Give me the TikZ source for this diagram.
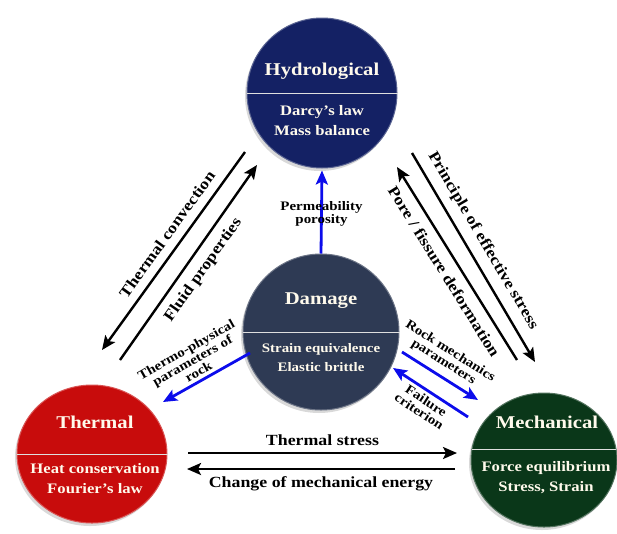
\documentclass[tikz,border=0pt]{standalone}
\usepackage{fontspec}
\setmainfont{Liberation Serif}[FakeStretch=1.15]
\usetikzlibrary{calc,arrows.meta,shapes.geometric,shadows}
\definecolor{hydroblue}{RGB}{20,33,100}
\definecolor{damagegray}{RGB}{46,58,84}
\definecolor{thermred}{RGB}{200,12,12}
\definecolor{mechgreen}{RGB}{10,55,25}
\definecolor{cream}{RGB}{255,250,236}
\definecolor{linkblue}{RGB}{12,12,235}
\tikzset{%
  field/.style={ellipse, inner sep=0pt, fill=#1, draw=#1!70!white, line width=1pt,
    drop shadow={shadow xshift=-2pt, shadow yshift=-3pt, opacity=.3}},% physical field disc
  title/.style={text=cream, font=\fontsize{18}{21}\selectfont\bfseries},% field name
  law/.style={text=cream, align=center, font=\fontsize{14.5}{20}\selectfont\bfseries},% governing laws
  divider/.style={draw=white!75!gray, line width=.8pt},% line between name and laws
  coupling/.style={draw=black, line width=2.4pt,
    -{Stealth[length=14pt,width=12pt,inset=3pt]}},% black coupling arrows
  damagelink/.style={coupling, draw=linkblue, line width=2.8pt},% blue damage arrows
  linktext/.style={text=black, font=\fontsize{15.5}{18}\selectfont\bfseries},% label at black arrow
  smalltext/.style={text=black, align=center, font=\fontsize{13}{12.5}\selectfont\bfseries}% label at blue arrow
}

\begin{document}
\begin{tikzpicture}[x=1pt, y=-1pt]
\useasboundingbox (0,0) rectangle (617,533);

% the four fields
\node[field=hydroblue, minimum width=150pt, minimum height=150pt] (hydro) at (322,93) {};
\node[field=damagegray, minimum width=156pt, minimum height=156pt] (dmg) at (321,332) {};
\node[field=thermred, minimum width=150pt, minimum height=138pt] (therm) at (92,454) {};
\node[field=mechgreen, minimum width=146pt, minimum height=134pt] (mech) at (544,460) {};

\draw[divider] (hydro.west) -- (hydro.east);
\draw[divider] (dmg.west) -- (dmg.east);
\draw[divider] (therm.west) -- (therm.east);
\draw[divider] ($(mech)+(-72,-11)$) -- ($(mech)+(72,-11)$);

\node[title] (hydrotitle) at (322,71) {Hydrological};
\node[law] (hydrolaw) at (322,121) {Darcy’s law\\Mass balance};
\node[title] (dmgtitle) at (321,301) {Damage};
\node[law, font=\fontsize{13}{19}\selectfont\bfseries] (dmglaw) at (321,358) {Strain equivalence\\Elastic brittle};
\node[title] (thermtitle) at (95,422) {Thermal};
\node[law] (thermlaw) at (95,479) {Heat conservation\\Fourier’s law};
\node[title] (mechtitle) at (547,422) {Mechanical};
\node[law] (mechlaw) at (546,478) {Force equilibrium\\Stress, Strain};

% black couplings
\draw[coupling] ($(hydro)+(-77,59)$) -- node[linktext, sloped, above=5pt, pos=.46] (convlabel) {Thermal convection} ($(therm)+(10,-104)$);
\draw[coupling] ($(therm)+(28,-94)$) -- node[linktext, sloped, below=5pt, pos=.51] (fluidlabel) {Fluid properties} ($(hydro)+(-65,72)$);
\draw[coupling] ($(hydro)+(90,60)$) -- node[linktext, sloped, above=5pt, pos=.46] (stresslabel) {Principle of effective stress} ($(mech)+(-9,-98)$);
\draw[coupling] ($(mech)+(-27,-100)$) -- node[linktext, sloped, below=5pt, pos=.5] (porelabel) {Pore / fissure deformation} ($(hydro)+(75,74)$);
\draw[coupling] ($(therm)+(96,-1)$) -- node[linktext, above=3pt] (tslabel) {Thermal stress} ($(mech)+(-87,-7)$);
\draw[coupling] ($(mech)+(-89,9)$) -- node[linktext, below=3pt] (energylabel) {Change of mechanical energy} ($(therm)+(95,15)$);

% blue damage links
\draw[damagelink] (dmg.north) -- node[smalltext, pos=.48] (permlabel) {Permeability\\porosity} ($(hydro.south)+(0,2)$);
\draw[damagelink] ($(dmg)+(-71,21)$) -- node[smalltext, sloped, above, pos=.54] (physlabel) {Thermo-physical\\parameters of\\rock} ($(therm)+(71,-52)$);
\draw[damagelink] ($(dmg)+(81,20)$) -- node[smalltext, sloped, above=3pt, pos=.45] (rocklabel) {Rock mechanics\\parameters} ($(mech)+(-66,-60)$);
\draw[damagelink] ($(mech)+(-76,-43)$) -- node[smalltext, sloped, below, pos=.49] (faillabel) {Failure\\criterion} ($(dmg)+(72,36)$);

\end{tikzpicture}
\end{document}
